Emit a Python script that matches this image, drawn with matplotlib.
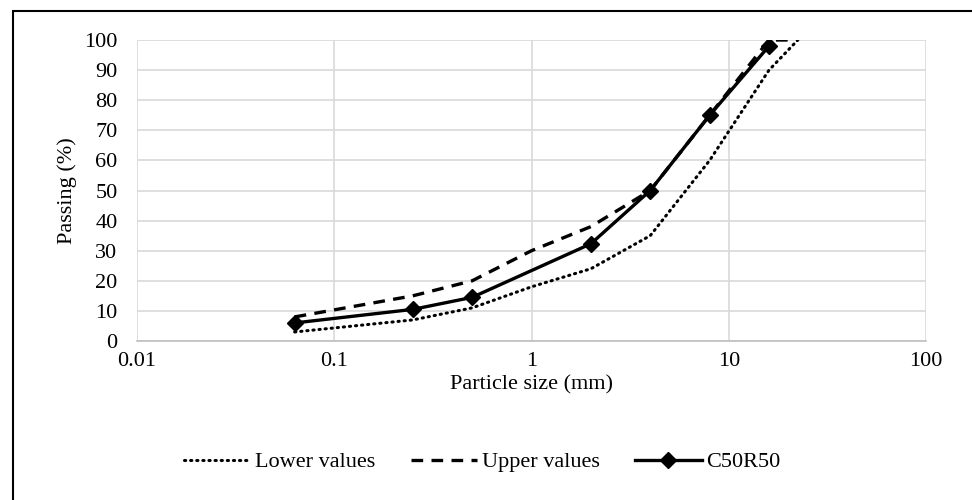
import matplotlib
matplotlib.use("Agg")
import matplotlib.pyplot as plt
from matplotlib.lines import Line2D
from matplotlib.patches import Rectangle

plt.rcParams['font.family'] = ['Liberation Serif', 'DejaVu Serif']

# Sieve sizes (mm) and percentage passing
sizes_env = [0.063, 0.25, 0.5, 1, 2, 4, 8, 16, 22.4]
lower_values = [3, 7, 11, 18, 24, 35, 60, 90, 100]
upper_values = [8, 15, 20, 30, 38, 50, 75, 100, 100]

sizes_mix = [0.063, 0.25, 0.5, 2, 4, 8, 16]
c50r50 = [6, 10.5, 14.5, 32.3, 50, 75, 98]

x_ticks = [0.01, 0.1, 1, 10, 100]
x_tick_labels = ["0.01", "0.1", "1", "10", "100"]
y_ticks = list(range(0, 101, 10))

FS = 16

fig = plt.figure(figsize=(9.72, 5.0), dpi=100)
ax = fig.add_axes([137 / 972, 1 - 341 / 500, (926 - 137) / 972, (341 - 40) / 500])

dot_style = (0, (0.4, 1.6))
dash_style = (0, (3.5, 2.5))

ax.plot(sizes_env, lower_values, color='black', lw=2.2, linestyle=dot_style,
        dash_capstyle='round', label='Lower values')
ax.plot(sizes_env, upper_values, color='black', lw=2.4, linestyle=dash_style,
        label='Upper values')
ax.plot(sizes_mix, c50r50, color='black', lw=2.4, marker='D', markersize=8.5,
        label='C50R50')

ax.set_xscale('log')
ax.set_xlim(0.01, 100)
ax.set_ylim(0, 100)
ax.set_xticks(x_ticks)
ax.set_xticklabels(x_tick_labels)
ax.xaxis.set_minor_locator(matplotlib.ticker.NullLocator())
ax.set_yticks(y_ticks)

ax.grid(True, which='major', color='#d9d9d9', lw=1.2)
ax.set_axisbelow(True)
for side in ('top', 'right', 'left'):
    ax.spines[side].set_visible(False)
ax.spines['bottom'].set_color('#bfbfbf')
ax.spines['bottom'].set_linewidth(1.2)
ax.tick_params(axis='both', length=0, labelsize=FS, colors='black')
ax.tick_params(axis='y', pad=14)
ax.tick_params(axis='x', pad=8)

ax.set_xlabel('Particle size (mm)', fontsize=FS, labelpad=3)
ax.set_ylabel('Passing (%)', fontsize=FS, labelpad=5)

handles = [
    Line2D([], [], color='black', lw=2.2, linestyle=dot_style, dash_capstyle='round'),
    Line2D([], [], color='black', lw=2.4, linestyle=dash_style),
    Line2D([], [], color='black', lw=2.4, marker='D', markersize=8.5),
]
fig.legend(handles, ['Lower values', 'Upper values', 'C50R50'], loc='center',
           bbox_to_anchor=(482 / 972, 1 - 462 / 500), ncol=3, frameon=False,
           fontsize=FS, handlelength=3.0, handletextpad=0.2, columnspacing=1.6)

# Chart-area border
fig.patches.append(Rectangle((13 / 972, -0.1), 1.2, 1 - 11 / 500 + 0.1,
                             transform=fig.transFigure, fill=False,
                             edgecolor='black', lw=1.5))

fig.savefig('out.png', dpi=100, facecolor='white')
